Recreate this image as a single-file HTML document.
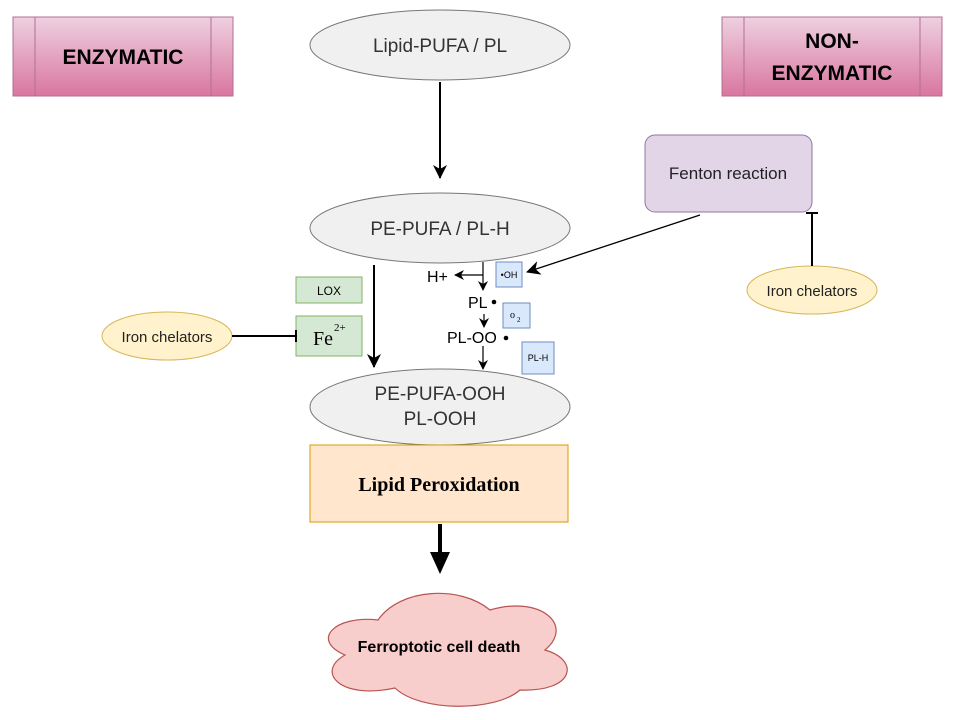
<!DOCTYPE html>
<html><head><meta charset="utf-8"><style>
html,body{margin:0;padding:0;background:#fff;}
svg{display:block;font-family:"Liberation Sans",sans-serif;}
</style></head><body>
<svg width="960" height="720" viewBox="0 0 960 720" xmlns="http://www.w3.org/2000/svg">
<defs>
<linearGradient id="pk" x1="0" y1="0" x2="0" y2="1"><stop offset="0" stop-color="#eed0e0"/><stop offset="1" stop-color="#d9769f"/></linearGradient>
<marker id="ar" markerWidth="14" markerHeight="14" refX="13" refY="7" orient="auto" markerUnits="userSpaceOnUse"><path d="M0,0 L14,7 L0,14 L4,7 Z" fill="#000"/></marker>
<marker id="as" markerWidth="10" markerHeight="10" refX="9" refY="5" orient="auto" markerUnits="userSpaceOnUse"><path d="M0,0 L10,5 L0,10 L3,5 Z" fill="#000"/></marker>
</defs>
<rect x="13" y="17" width="220" height="79" fill="url(#pk)" stroke="#b07090"/>
<line x1="35" y1="17" x2="35" y2="96" stroke="#b07090"/><line x1="211" y1="17" x2="211" y2="96" stroke="#b07090"/>
<text x="123" y="64" text-anchor="middle" font-weight="bold" font-size="21">ENZYMATIC</text>
<rect x="722" y="17" width="220" height="79" fill="url(#pk)" stroke="#b07090"/>
<line x1="744" y1="17" x2="744" y2="96" stroke="#b07090"/><line x1="920" y1="17" x2="920" y2="96" stroke="#b07090"/>
<text x="832" y="48" text-anchor="middle" font-weight="bold" font-size="21">NON-</text>
<text x="832" y="80" text-anchor="middle" font-weight="bold" font-size="21">ENZYMATIC</text>
<ellipse cx="440" cy="45" rx="130" ry="35" fill="#f0f0f0" stroke="#777"/>
<text x="440" y="52" text-anchor="middle" font-size="19" fill="#333">Lipid-PUFA / PL</text>
<line x1="440" y1="82" x2="440" y2="178" stroke="#000" stroke-width="2" marker-end="url(#ar)"/>
<ellipse cx="440" cy="228" rx="130" ry="35" fill="#f0f0f0" stroke="#777"/>
<text x="440" y="235" text-anchor="middle" font-size="19" fill="#333">PE-PUFA / PL-H</text>
<rect x="645" y="135" width="167" height="77" rx="10" fill="#e1d5e7" stroke="#9673a6"/>
<text x="728" y="179" text-anchor="middle" font-size="17" fill="#222">Fenton reaction</text>
<line x1="700" y1="215" x2="527" y2="272" stroke="#000" stroke-width="1.3" marker-end="url(#ar)"/>
<ellipse cx="812" cy="290" rx="65" ry="24" fill="#fff2cc" stroke="#d6b656"/>
<text x="812" y="296" text-anchor="middle" font-size="15" fill="#222">Iron chelators</text>
<line x1="812" y1="266" x2="812" y2="213" stroke="#000" stroke-width="2"/>
<line x1="806" y1="213" x2="818" y2="213" stroke="#000" stroke-width="2"/>
<rect x="296" y="277" width="66" height="26" fill="#d5e8d4" stroke="#82b366"/>
<text x="329" y="295" text-anchor="middle" font-size="12">LOX</text>
<rect x="296" y="316" width="66" height="40" fill="#d5e8d4" stroke="#82b366"/>
<text x="313" y="345" font-family="Liberation Serif,serif" font-size="20">Fe</text>
<text x="334" y="331" font-family="Liberation Serif,serif" font-size="11">2+</text>
<ellipse cx="167" cy="336" rx="65" ry="24" fill="#fff2cc" stroke="#d6b656"/>
<text x="167" y="342" text-anchor="middle" font-size="15" fill="#222">Iron chelators</text>
<line x1="232" y1="336" x2="296" y2="336" stroke="#000" stroke-width="2"/>
<line x1="296" y1="330" x2="296" y2="342" stroke="#000" stroke-width="2"/>
<line x1="374" y1="265" x2="374" y2="367" stroke="#000" stroke-width="2" marker-end="url(#ar)"/>
<line x1="483" y1="262" x2="483" y2="290" stroke="#000" stroke-width="1.2" marker-end="url(#as)"/>
<line x1="483" y1="275" x2="455" y2="275" stroke="#000" stroke-width="1.2" marker-end="url(#as)"/>
<text x="427" y="282" font-size="16">H+</text>
<rect x="496" y="262" width="26" height="25" fill="#dae8fc" stroke="#6c8ebf"/>
<text x="509" y="278" text-anchor="middle" font-size="9">•OH</text>
<text x="468" y="308" font-size="16">PL</text><circle cx="494" cy="302" r="2.3" fill="#000"/>
<line x1="484" y1="314" x2="484" y2="327" stroke="#000" stroke-width="1.2" marker-end="url(#as)"/>
<rect x="503" y="303" width="27" height="25" fill="#dae8fc" stroke="#6c8ebf"/>
<text x="510" y="318" font-family="Liberation Serif,serif" font-size="10">o</text><text x="517" y="322" font-family="Liberation Serif,serif" font-size="7">2</text>
<text x="447" y="343" font-size="16">PL-OO</text><circle cx="506" cy="338" r="2.3" fill="#000"/>
<line x1="483" y1="346" x2="483" y2="369" stroke="#000" stroke-width="1.2" marker-end="url(#as)"/>
<rect x="522" y="342" width="32" height="32" fill="#dae8fc" stroke="#6c8ebf"/>
<text x="538" y="361" text-anchor="middle" font-size="9">PL-H</text>
<ellipse cx="440" cy="407" rx="130" ry="38" fill="#f0f0f0" stroke="#777"/>
<text x="440" y="400" text-anchor="middle" font-size="19" fill="#333">PE-PUFA-OOH</text>
<text x="440" y="425" text-anchor="middle" font-size="19" fill="#333">PL-OOH</text>
<rect x="310" y="445" width="258" height="77" fill="#ffe6cc" stroke="#d79b00"/>
<text x="439" y="491" text-anchor="middle" font-family="Liberation Serif,serif" font-weight="bold" font-size="20">Lipid Peroxidation</text>
<line x1="440" y1="524" x2="440" y2="556" stroke="#000" stroke-width="4"/>
<path d="M430,552 L450,552 L440,574 Z" fill="#000"/>
<path d="M378,620 C335,615 310,640 345,655 C315,672 340,700 395,688 C420,712 495,712 520,690 C575,692 580,660 545,650 C575,625 540,595 490,610 C460,585 400,588 378,620 Z" fill="#f8cecc" stroke="#b85450" stroke-width="1.2"/>
<text x="439" y="652" text-anchor="middle" font-weight="bold" font-size="16">Ferroptotic cell death</text>
</svg>
</body></html>
